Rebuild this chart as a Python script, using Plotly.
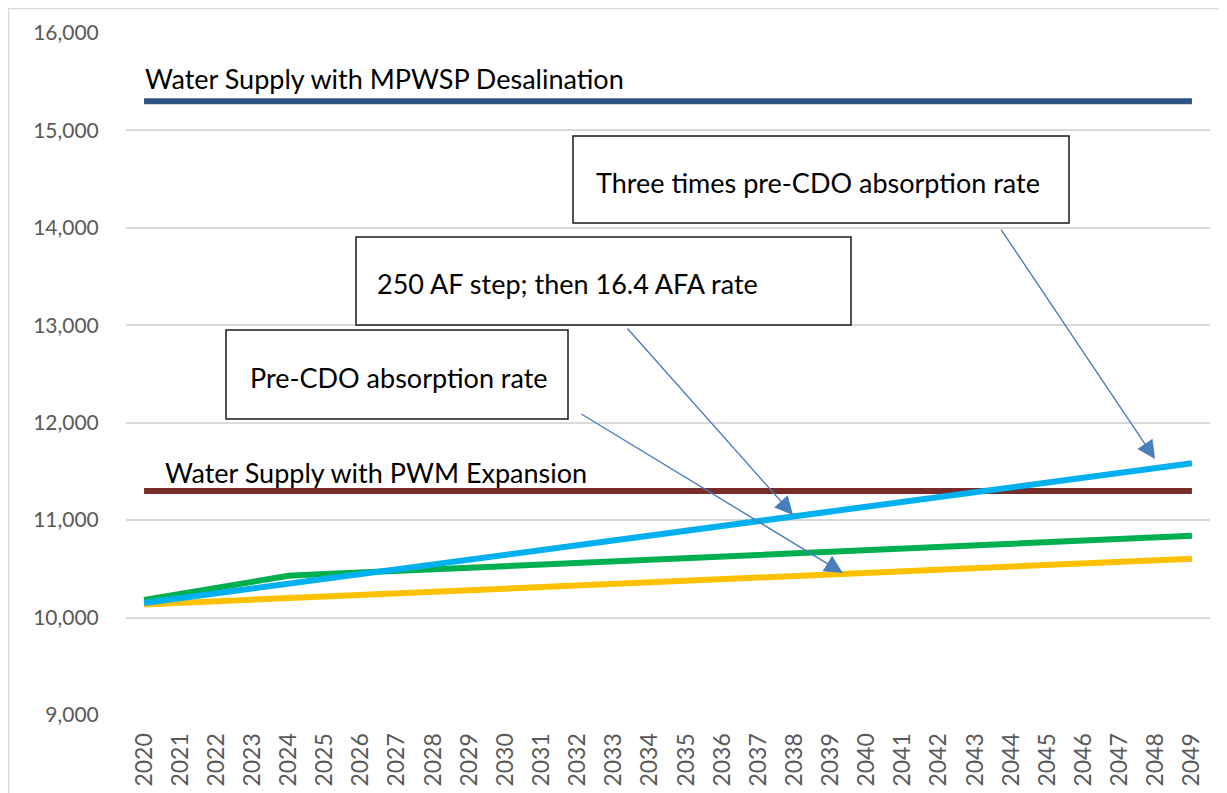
import plotly.graph_objects as go

years = list(range(2020, 2050))
desal_supply = [15300] * 30
pwm_supply = [11300] * 30
three_times_rate = [10150, 10199, 10249, 10298, 10348, 10397, 10446, 10496, 10545, 10595,
                    10644, 10693, 10743, 10792, 10842, 10891, 10940, 10990, 11039, 11089,
                    11138, 11187, 11237, 11286, 11336, 11385, 11434, 11484, 11533, 11583]
step_then_rate = [10180, 10242, 10305, 10367, 10430, 10446, 10463, 10479, 10496, 10512,
                  10528, 10545, 10561, 10578, 10594, 10610, 10627, 10643, 10660, 10676,
                  10692, 10709, 10725, 10742, 10758, 10774, 10791, 10807, 10824, 10840]
pre_cdo_rate = [10135, 10151, 10167, 10184, 10200, 10216, 10232, 10248, 10265, 10281,
                10297, 10313, 10329, 10346, 10362, 10378, 10394, 10410, 10427, 10443,
                10459, 10475, 10491, 10508, 10524, 10540, 10556, 10572, 10589, 10605]
y_ticks = [9000, 10000, 11000, 12000, 13000, 14000, 15000, 16000]

FONT = "Lato"
LW = 6

# page offset (browser body margin) compensation
OFF = 8
W, H = 1227 - OFF, 793 - OFF
L, T, R, B = 126 - OFF, 33 - OFF, 17, 78
PW, PH = W - L - R, H - T - B

fig = go.Figure()
series = [
    (desal_supply, "#2E5385", "Water Supply with MPWSP Desalination"),
    (pwm_supply, "#772C2A", "Water Supply with PWM Expansion"),
    (pre_cdo_rate, "#FFC000", "Pre-CDO absorption rate"),
    (step_then_rate, "#00B050", "250 AF step; then 16.4 AFA rate"),
    (three_times_rate, "#00B0F0", "Three times pre-CDO absorption rate"),
]
for vals, col, name in series:
    fig.add_trace(go.Scatter(x=years, y=vals, mode="lines", name=name,
                             line=dict(color=col, width=LW), showlegend=False,
                             hoverinfo="skip"))


def px2paper(px, py):
    # page pixel coords -> paper coords
    return (px - OFF - L) / PW, (H - B - (py - OFF)) / PH


# Outer chart border
bx0, by1 = px2paper(8.5, 8.5)
fig.add_shape(type="rect", xref="paper", yref="paper", x0=bx0, x1=1.06,
              y0=-0.25, y1=by1, line=dict(color="#D9D9D9", width=1.5), layer="below")

# Callout boxes (page pixel coords)
boxes = [
    (573, 136, 1069, 223),
    (356, 237, 851, 325),
    (226, 330, 568, 419),
]
for a, b, c, d in boxes:
    x0, y1 = px2paper(a, b)
    x1, y0 = px2paper(c, d)
    fig.add_shape(type="rect", xref="paper", yref="paper", x0=x0, x1=x1, y0=y0, y1=y1,
                  line=dict(color="#1a1a1a", width=1.5), fillcolor="white", layer="above")

texts = [
    ("Water Supply with MPWSP Desalination", 143, 78),
    ("Water Supply with PWM Expansion", 163, 472),
    ("Three times pre-CDO absorption rate", 594, 182),
    ("250 AF step; then 16.4 AFA rate", 375, 283),
    ("Pre-CDO absorption rate", 248, 377),
]
for t, px, py in texts:
    xp, yp = px2paper(px, py)
    fig.add_annotation(text=t, xref="paper", yref="paper", x=xp, y=yp,
                       xanchor="left", yanchor="middle", showarrow=False,
                       font=dict(family=FONT, size=27, color="black"))

# Arrows: (tip_x, tip_y, tail_x, tail_y) in data coords
arrows = [
    (2047.98, 11628, 2043.69, 13998),
    (2037.96, 11053, 2033.34, 12982),
    (2039.34, 10457, 2032.06, 12099),
]
for tx, ty, sx, sy in arrows:
    fig.add_annotation(x=tx, y=ty, ax=sx, ay=sy, xref="x", yref="y", axref="x", ayref="y",
                       text="", showarrow=True, arrowhead=2, arrowsize=2.6, arrowwidth=1.4,
                       arrowcolor="#4A7EBB", standoff=0, startstandoff=0)

fig.update_xaxes(range=[2019.5, 2049.5], tickmode="array", tickvals=years,
                 ticktext=[str(y) for y in years], tickangle=-90,
                 showgrid=False, showline=False, zeroline=False,
                 ticks="outside", ticklen=8, tickcolor="rgba(0,0,0,0)",
                 tickfont=dict(family=FONT, size=23, color="#595959"))
fig.update_yaxes(range=[9000, 16000], tickmode="array", tickvals=y_ticks,
                 ticktext=[f"{v:,}" for v in y_ticks],
                 showgrid=True, gridcolor="#D9D9D9", gridwidth=1.5, zeroline=False,
                 showline=False, ticks="outside", ticklen=22, tickcolor="rgba(0,0,0,0)",
                 tickfont=dict(family=FONT, size=21, color="#595959"))

fig.update_layout(width=W, height=H, margin=dict(l=L, r=R, t=T, b=B, autoexpand=False),
                  plot_bgcolor="white", paper_bgcolor="white")

fig.write_html("out.html")
